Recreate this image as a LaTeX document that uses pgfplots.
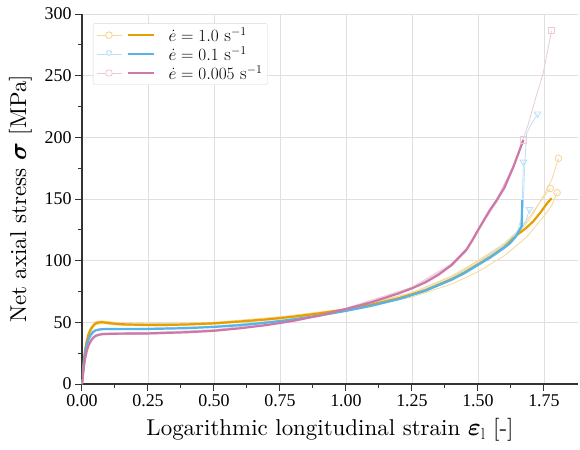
\documentclass[border=0pt]{standalone}
\usepackage{fontspec}
\usepackage{bm}
\usepackage{pgfplots}
\pgfplotsset{compat=1.18}
\newfontfamily\tickfont{Liberation Serif}
\newfontfamily\lmten{lmroman10-regular}[Extension=.otf, ItalicFont=lmroman10-italic, BoldFont=lmroman10-bold]
\definecolor{cO}{HTML}{E69F00}
\definecolor{cB}{HTML}{56B4E9}
\definecolor{cP}{HTML}{CC79A7}
\colorlet{fO}{cO!40!white}
\colorlet{fB}{cB!40!white}
\colorlet{fP}{cP!40!white}
\begin{document}
\begin{tikzpicture}
\begin{axis}[
  scale only axis, width=496bp, height=370bp,
  xmin=0, xmax=1.879, ymin=0, ymax=300,
  axis x line*=bottom, axis y line*=left,
  axis line style={black!80, line width=1.2bp, -},
  xtick={0,0.25,0.5,0.75,1,1.25,1.5,1.75},
  ytick={0,50,100,150,200,250,300},
  minor x tick num=1, minor y tick num=1,
  tick align=outside,
  major tick length=7bp, minor tick length=4bp,
  every tick/.style={black!80, line width=1bp},
  grid=major, major grid style={gray!25, line width=0.8bp},
  /pgf/number format/assume math mode=true,
  tick label style={font=\tickfont\fontsize{18}{18}\selectfont},
  xticklabel style={/pgf/number format/.cd, fixed, fixed zerofill, precision=2},
  yticklabel style={/pgf/number format/.cd, fixed, precision=0},
  xlabel={Logarithmic longitudinal strain $\bm{\varepsilon}_\mathrm{l}$ [-]},
  ylabel={Net axial stress $\bm{\sigma}$ [MPa]},
  label style={font=\lmten\fontsize{23}{23}\selectfont},
  xlabel shift=5bp, ylabel shift=6bp,
  legend style={at={(0.022,0.975)}, anchor=north west, draw=gray!30, rounded corners=2pt,
    font=\fontsize{18.5}{18.5}\selectfont, row sep=-0.5bp, inner xsep=3bp, inner ysep=2bp},
  legend cell align=left,
]
% ---------- faint specimen curves ----------
\addplot[fO, line width=0.8bp, forget plot] coordinates {(0,0)(0.01,26)(0.025,42)(0.05,50.5)(0.075,51.2)(0.15,49.5)(0.3,49)(0.5,50)(0.75,54.5)(1.0,61)(1.25,74)(1.4,87)(1.5,99)(1.6,113)(1.65,121)(1.7,135)(1.754,154.6)(1.78,166)(1.805,183)};
\addplot[fO, line width=0.8bp, forget plot] coordinates {(0,0)(0.01,24)(0.025,40)(0.05,49)(0.075,49.5)(0.15,48)(0.3,47.5)(0.5,48.5)(0.75,53)(1.0,60.5)(1.25,74)(1.4,87.5)(1.5,100)(1.6,114)(1.65,124)(1.7,137)(1.74,149)(1.774,158.6)};
\addplot[fO, line width=0.8bp, forget plot] coordinates {(0,0)(0.01,22)(0.025,39)(0.05,48)(0.075,49)(0.15,47.5)(0.3,47.2)(0.5,48.5)(0.75,52.5)(1.0,59)(1.25,70.5)(1.4,81)(1.5,91)(1.6,104)(1.684,119)(1.75,136)(1.78,145)(1.80,155.1)};
\addplot[fB, line width=0.8bp, forget plot] coordinates {(0,0)(0.01,23)(0.025,37.5)(0.05,44)(0.08,45)(0.2,45)(0.5,46.8)(0.75,51.5)(1.0,60)(1.25,73)(1.4,85.5)(1.5,97.5)(1.6,111.5)(1.65,122)(1.66,126)(1.668,150)(1.672,180)};
\addplot[fB, line width=0.8bp, forget plot] coordinates {(0,0)(0.01,21)(0.025,35.5)(0.05,43)(0.08,44)(0.2,44.2)(0.5,46)(0.75,50.5)(1.0,59)(1.25,72)(1.4,85)(1.5,97)(1.6,112)(1.65,122)(1.68,131)(1.695,141.6)};
\addplot[fB, line width=0.8bp, forget plot] coordinates {(0,0)(0.01,22)(0.025,36.5)(0.05,43.5)(0.08,44.5)(0.2,44.6)(0.5,46.2)(0.75,51)(1.0,59.5)(1.25,72.5)(1.4,86)(1.5,98)(1.6,113)(1.65,124)(1.665,135)(1.672,150)(1.678,180)(1.684,203)(1.703,211)(1.726,219)};
\addplot[fP, line width=0.8bp, forget plot] coordinates {(0,0)(0.01,19)(0.025,32.5)(0.05,39.8)(0.08,41.3)(0.25,41.8)(0.5,44)(0.75,50.5)(1.0,61.5)(1.25,78.5)(1.4,97.5)(1.457,110)(1.508,128.5)(1.571,150)(1.634,177)(1.672,197.8)};
\addplot[fP, line width=0.8bp, forget plot] coordinates {(0,0)(0.01,17)(0.025,30.5)(0.05,38.5)(0.08,40)(0.25,40.3)(0.5,42.5)(0.75,49)(1.0,60.3)(1.25,77)(1.4,95.5)(1.457,108)(1.508,126.5)(1.571,147.5)(1.634,175)(1.655,187)(1.665,195)(1.69,210)(1.716,230)(1.747,252)(1.779,286.5)};
\addplot[fP, line width=0.8bp, forget plot] coordinates {(0,0)(0.01,18)(0.025,31.5)(0.05,39)(0.08,40.5)(0.25,41)(0.5,43.2)(0.75,49.5)(1.0,60.8)(1.25,77.6)(1.4,96.5)(1.457,109)(1.508,127.6)(1.571,149)(1.634,176)(1.668,196)};
% end markers
\addplot[only marks, mark=o, mark size=3.3bp, fO, mark options={line width=0.9bp, fill=white}, forget plot] coordinates {(1.805,183)(1.774,158.6)(1.80,155.1)};
\addplot[only marks, mark=triangle, mark size=3.8bp, fB, mark options={rotate=180, line width=0.9bp, fill=white}, forget plot] coordinates {(1.672,180)(1.695,141.6)(1.726,219)};
\addplot[only marks, mark=square, mark size=3.1bp, fP, mark options={line width=0.9bp, fill=white, draw=fP}, forget plot] coordinates {(1.672,197.8)(1.779,286.5)};
% ---------- mean curves ----------
\addplot[cO, line width=2.2bp, legend image code/.code={
  \draw[fO, line width=0.8bp] (4bp,0bp) -- (29bp,0bp);
  \draw[fO, line width=0.9bp, fill=white] (16.5bp,0bp) circle (3.3bp);
  \draw[cO, line width=2.2bp] (35bp,0bp) -- (61bp,0bp);}]
coordinates {(0,0)(0.004,12)(0.008,21)(0.012,28)(0.018,35)(0.025,40.5)(0.033,44.5)(0.042,47.3)(0.052,49.1)(0.062,49.9)(0.075,50.1)(0.09,49.8)(0.11,49.2)(0.14,48.6)(0.18,48.2)(0.25,47.9)(0.32,47.9)(0.4,48.3)(0.5,49.2)(0.6,50.7)(0.7,52.4)(0.8,54.6)(0.9,57.3)(1.0,60.5)(1.1,64.5)(1.2,69.5)(1.3,76)(1.4,85)(1.45,90.5)(1.5,97)(1.55,103.5)(1.6,111)(1.646,120.5)(1.68,126)(1.71,132)(1.74,140)(1.76,146)(1.779,150.6)};
\addlegendentry{\hspace{12bp}$\dot{e} = 1.0~\mathrm{s}^{-1}$}
\addplot[cB, line width=2.2bp, legend image code/.code={
  \draw[fB, line width=0.8bp] (4bp,0bp) -- (29bp,0bp);
  \draw[fB, line width=0.9bp, fill=white] (16.5bp,-2.6bp) -- (13.2bp,3.2bp) -- (19.8bp,3.2bp) -- cycle;
  \draw[cB, line width=2.2bp] (35bp,0bp) -- (61bp,0bp);}]
coordinates {(0,0)(0.004,10.5)(0.008,19)(0.012,25.5)(0.018,32)(0.025,36.5)(0.033,40)(0.042,42.2)(0.052,43.5)(0.065,44.2)(0.08,44.5)(0.12,44.6)(0.25,44.6)(0.4,45.3)(0.5,46.3)(0.6,47.7)(0.7,49.8)(0.8,52.3)(0.9,55.5)(1.0,59.3)(1.1,63.6)(1.2,68.8)(1.3,75.5)(1.4,84.5)(1.45,90)(1.5,96.5)(1.55,103)(1.6,110.5)(1.621,114)(1.645,120)(1.659,125.5)(1.666,128)(1.668,149)};
\addlegendentry{\hspace{12bp}$\dot{e} = 0.1~\mathrm{s}^{-1}$}
\addplot[cP, line width=2.2bp, legend image code/.code={
  \draw[fP, line width=0.8bp] (4bp,0bp) -- (29bp,0bp);
  \draw[fP, line width=0.9bp, fill=white] (13.5bp,-3bp) rectangle (19.5bp,3bp);
  \draw[cP, line width=2.2bp] (35bp,0bp) -- (61bp,0bp);}]
coordinates {(0,0)(0.004,8)(0.008,15)(0.012,21)(0.018,27)(0.025,31.5)(0.033,35)(0.042,37.5)(0.052,39)(0.065,40)(0.08,40.5)(0.12,40.8)(0.25,41)(0.4,42)(0.5,43.2)(0.6,45.2)(0.7,47.8)(0.8,51.2)(0.9,55.5)(1.0,60.8)(1.1,66.5)(1.2,73.5)(1.25,77.6)(1.3,82.3)(1.35,88.5)(1.4,96.5)(1.432,103.5)(1.457,109)(1.48,117)(1.508,127.6)(1.545,141)(1.571,149)(1.6,159)(1.634,176)(1.655,188)(1.672,197.8)};
\addlegendentry{\hspace{12bp}$\dot{e} = 0.005~\mathrm{s}^{-1}$}
\end{axis}
\path (current axis.south west) ++(-82bp,-66bp);
\path (current axis.north east) ++(2bp,14bp);
\end{tikzpicture}
\end{document}
